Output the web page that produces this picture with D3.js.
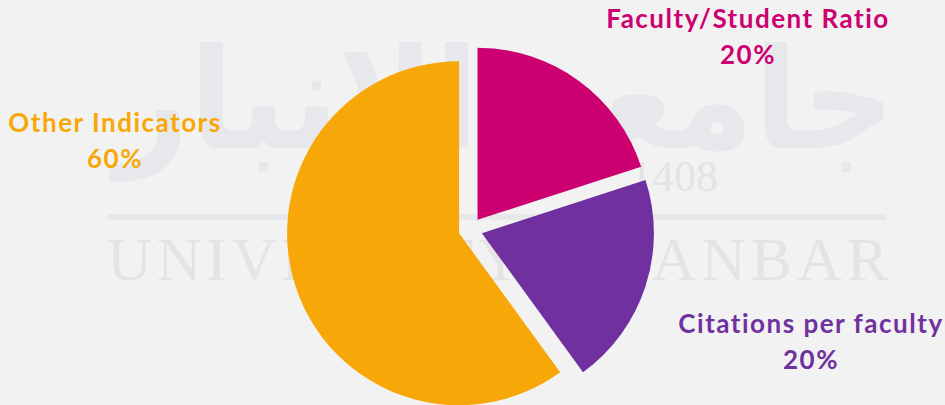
<!DOCTYPE html>
<html lang="en">

<head>
    <meta charset="UTF-8">
    <title>Indicator weights</title>
    <style>
        body { margin: 0; background: #f2f2f2; }
        svg { display: block; }
    </style>
</head>

<body>
    <script src="https://cdn.jsdelivr.net/npm/d3@7"></script>
    <script>
        const svg_w = 945;
        const svg_h = 405;

        // chart data
        const categories = ['Faculty/Student Ratio', 'Citations per faculty', 'Other Indicators'];
        const values = [20, 20, 60];
        const colors = ['#cc0070', '#7030a0', '#f7a808'];

        // where each label sits (centre x, first baseline y)
        const label_pos = [[748, 28], [811, 333], [115, 132]];

        const cx = 470.5;
        const cy = 229.5;
        const radius = 172;
        const explode = 12;

        const svg = d3.select('body')
            .append('svg')
            .attr('width', svg_w)
            .attr('height', svg_h);

        svg.append('rect')
            .attr('width', svg_w)
            .attr('height', svg_h)
            .attr('fill', '#f2f2f2');

        // faint university watermark behind the chart
        const mark = svg.append('g').attr('fill', '#e7e8eb');
        mark.append('text')
            .attr('x', 505)
            .attr('y', 148)
            .attr('text-anchor', 'middle')
            .attr('font-family', 'DejaVu Sans')
            .attr('font-weight', 'bold')
            .attr('font-size', 140)
            .attr('textLength', 780)
            .attr('lengthAdjust', 'spacingAndGlyphs')
            .text('جامعة الانبار');
        mark.append('text')
            .attr('x', 630)
            .attr('y', 191)
            .attr('font-family', 'Liberation Serif')
            .attr('font-size', 44)
            .attr('fill', '#e4e4e4')
            .text('1408');
        mark.append('rect')
            .attr('x', 107)
            .attr('y', 214)
            .attr('width', 780)
            .attr('height', 6)
            .attr('rx', 3);
        mark.append('text')
            .attr('x', 107)
            .attr('y', 280)
            .attr('font-family', 'Liberation Serif')
            .attr('font-size', 62)
            .attr('fill', '#e4e4e4')
            .attr('textLength', 781)
            .attr('lengthAdjust', 'spacing')
            .text('UNIVERSITY OF ANBAR');

        const pie = d3.pie().sort(null).value(d => d);
        const arc = d3.arc().innerRadius(0).outerRadius(radius);
        const arcs = pie(values);

        const g = svg.append('g').attr('transform', `translate(${cx},${cy})`);

        g.selectAll('path')
            .data(arcs)
            .enter()
            .append('path')
            .attr('d', arc)
            .attr('fill', (d, i) => colors[i])
            .attr('transform', d => {
                const mid = (d.startAngle + d.endAngle) / 2;
                return `translate(${Math.sin(mid) * explode},${-Math.cos(mid) * explode})`;
            });

        const total = d3.sum(values);

        const labels = svg.selectAll('text.lbl')
            .data(categories)
            .enter()
            .append('text')
            .attr('class', 'lbl')
            .attr('text-anchor', 'middle')
            .attr('font-family', 'Lato, sans-serif')
            .attr('font-weight', 'bold')
            .attr('font-size', 26)
            .attr('letter-spacing', 1.5)
            .attr('fill', (d, i) => colors[i]);

        labels.append('tspan')
            .attr('x', (d, i) => label_pos[i][0])
            .attr('y', (d, i) => label_pos[i][1])
            .text(d => d);

        labels.append('tspan')
            .attr('x', (d, i) => label_pos[i][0])
            .attr('y', (d, i) => label_pos[i][1] + 36)
            .text((d, i) => Math.round(values[i] / total * 100) + '%');
    </script>
</body>

</html>
